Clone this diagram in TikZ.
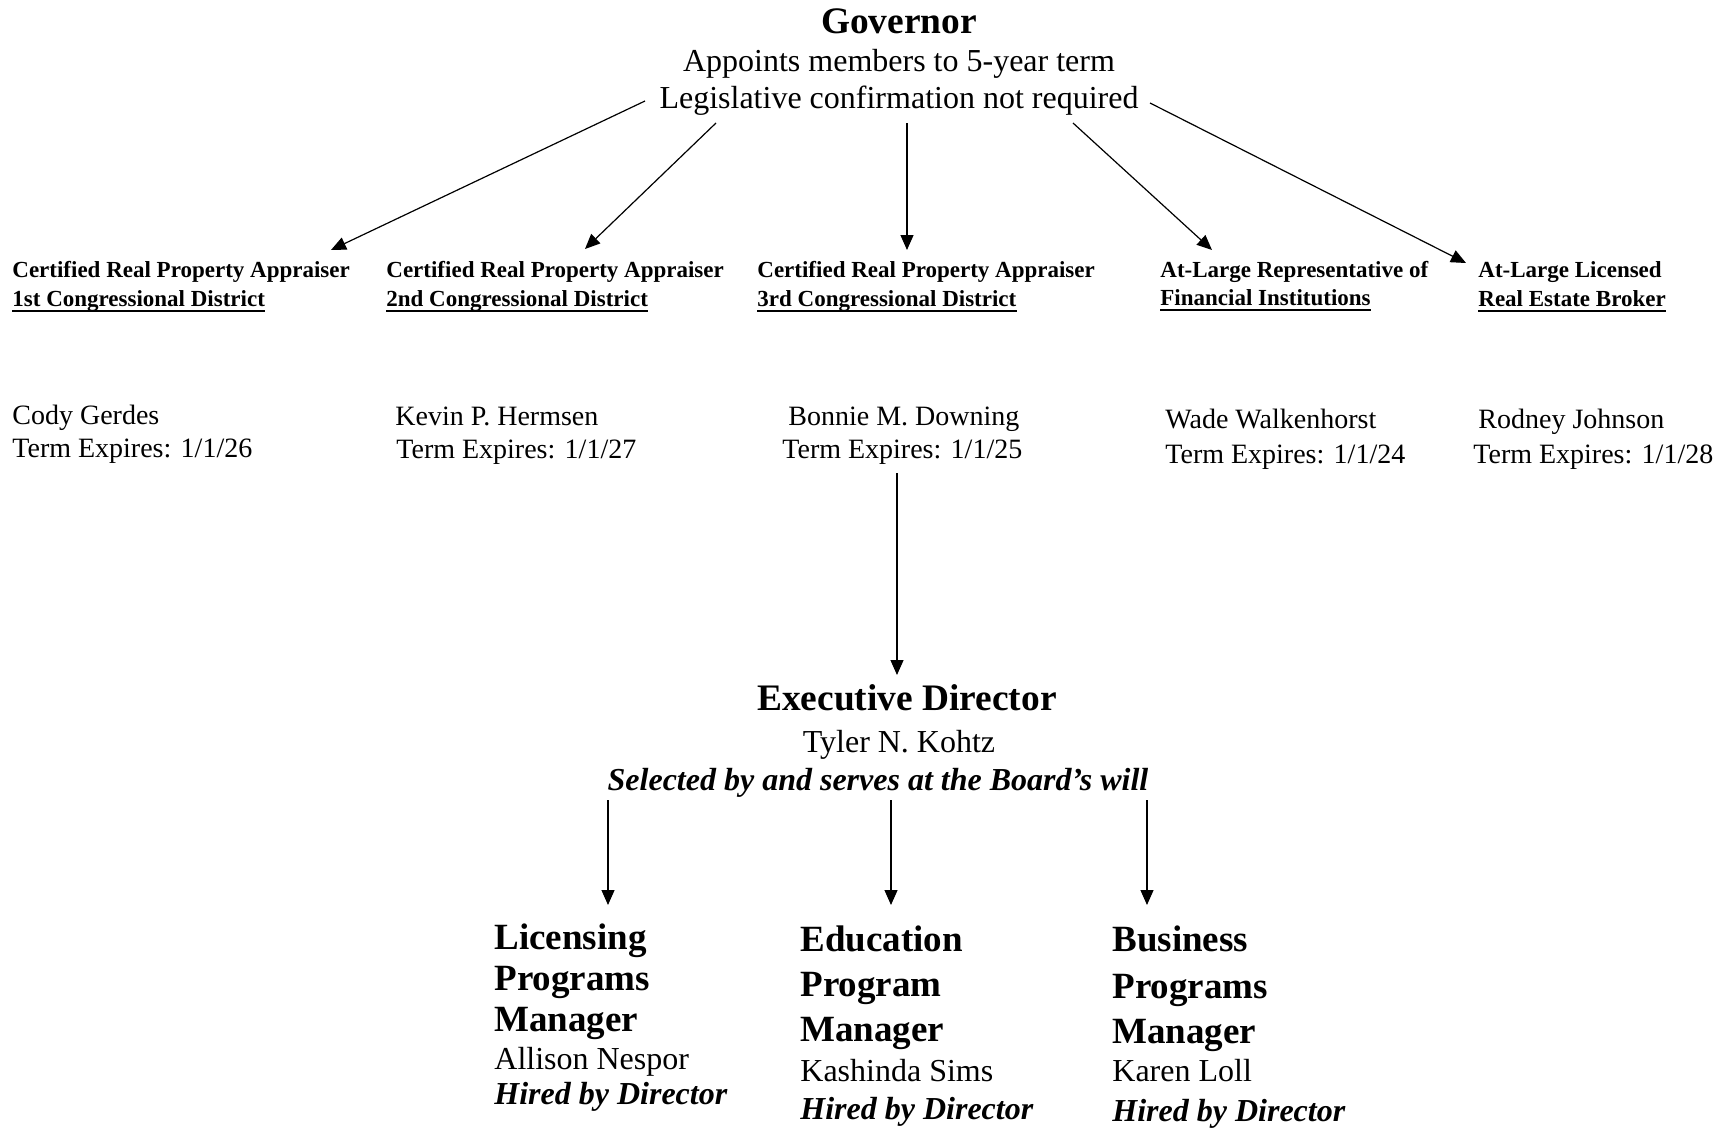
\documentclass[tikz,border=0pt]{standalone}
\usepackage{fontspec}
\setmainfont{Liberation Serif}
\usetikzlibrary{arrows.meta}
\newcommand\fsz[1]{\fontsize{#1}{#1}\selectfont}
\begin{document}
\begin{tikzpicture}[x=0.5pt,y=-0.5pt,
  txt/.style={inner sep=0pt,anchor=base west},
  ctxt/.style={inner sep=0pt,anchor=base},
  headf/.style={font=\fsz{18.7}\bfseries},
  bodyf/.style={font=\fsz{16}},
  boardf/.style={font=\fsz{11.5}\bfseries},
  namef/.style={font=\fsz{14}},
  mgrf/.style={font=\fsz{18.5}\bfseries},
  bif/.style={font=\fsz{16}\bfseries\itshape},
  arr/.style={line width=0.6pt,-{Triangle[length=7.5pt,width=6.5pt]}},
  uline/.style={line width=1.2pt}]
\useasboundingbox (0,0) rectangle (1726,1130);

% Governor
\node[ctxt,headf] (gov) at (899,33) {Governor};
\node[ctxt,bodyf] (gov2) at (899,71) {Appoints members to 5-year term};
\node[ctxt,bodyf] (gov3) at (899,108) {Legislative confirmation not required};

% Board titles
\node[txt,boardf] (t1a) at (12,277) {Certified Real Property Appraiser};
\node[txt,boardf] (t1b) at (12,306) {1st Congressional District};
\node[txt,boardf] (t2a) at (386,277) {Certified Real Property Appraiser};
\node[txt,boardf] (t2b) at (386,306) {2nd Congressional District};
\node[txt,boardf] (t3a) at (757,277) {Certified Real Property Appraiser};
\node[txt,boardf] (t3b) at (757,306) {3rd Congressional District};
\node[txt,boardf] (t4a) at (1160,277) {At-Large Representative of};
\node[txt,boardf] (t4b) at (1160,305) {Financial Institutions};
\node[txt,boardf] (t5a) at (1478,277) {At-Large Licensed};
\node[txt,boardf] (t5b) at (1478,306) {Real Estate Broker};
\foreach \n in {t1b,t2b,t3b,t4b,t5b}
  \draw[uline] ([yshift=-2.6pt]\n.base west) -- ([yshift=-2.6pt]\n.base east);

% Members
\node[txt,namef] (n1a) at (12,424) {Cody Gerdes};
\node[txt,namef] (n1b) at (12,457) {Term Expires: 1/1/26};
\node[txt,namef] (n2a) at (395,425) {Kevin P. Hermsen};
\node[txt,namef] (n2b) at (396,458) {Term Expires: 1/1/27};
\node[txt,namef] (n3a) at (788,425) {Bonnie M. Downing};
\node[txt,namef] (n3b) at (782,458) {Term Expires: 1/1/25};
\node[txt,namef] (n4a) at (1165,428) {Wade Walkenhorst};
\node[txt,namef] (n4b) at (1165,463) {Term Expires: 1/1/24};
\node[txt,namef] (n5a) at (1478,428) {Rodney Johnson};
\node[txt,namef] (n5b) at (1473,463) {Term Expires: 1/1/28};

% Executive director
\node[ctxt,headf] (ed) at (907,710) {Executive Director};
\node[ctxt,bodyf] (ed2) at (899,752) {Tyler N. Kohtz};
\node[ctxt,bif] (ed3) at (878,790) {Selected by and serves at the Board’s will};

% Managers
\node[txt,mgrf] (m1a) at (494,949) {Licensing};
\node[txt,mgrf] (m1b) at (494,990) {Programs};
\node[txt,mgrf] (m1c) at (494,1031) {Manager};
\node[txt,bodyf] (m1d) at (494,1069) {Allison Nespor};
\node[txt,bif] (m1e) at (494,1104) {Hired by Director};

\node[txt,mgrf] (m2a) at (800,951) {Education};
\node[txt,mgrf] (m2b) at (800,996) {Program};
\node[txt,mgrf] (m2c) at (800,1041) {Manager};
\node[txt,bodyf] (m2d) at (800,1081) {Kashinda Sims};
\node[txt,bif] (m2e) at (800,1119) {Hired by Director};

\node[txt,mgrf] (m3a) at (1112,951) {Business};
\node[txt,mgrf] (m3b) at (1112,998) {Programs};
\node[txt,mgrf] (m3c) at (1112,1043) {Manager};
\node[txt,bodyf] (m3d) at (1112,1081) {Karen Loll};
\node[txt,bif] (m3e) at (1112,1121) {Hired by Director};

% Connector end points
\coordinate (g1) at (645,101);  \coordinate (e1) at (331,250);
\coordinate (g2) at (716,123);  \coordinate (e2) at (585,249);
\coordinate (g3) at (907,123);  \coordinate (e3) at (907,250);
\coordinate (g4) at (1073,123); \coordinate (e4) at (1212,250);
\coordinate (g5) at (1150,103); \coordinate (e5) at (1466,263);
\coordinate (b3) at (897,473);  \coordinate (edt) at (897,675);
\coordinate (s1) at (608,800);  \coordinate (f1) at (608,905);
\coordinate (s2) at (891,800);  \coordinate (f2) at (891,905);
\coordinate (s3) at (1147,800); \coordinate (f3) at (1147,905);

\draw[arr] (g1) -- (e1);
\draw[arr] (g2) -- (e2);
\draw[arr] (g3) -- (e3);
\draw[arr] (g4) -- (e4);
\draw[arr] (g5) -- (e5);
\draw[arr] (b3) -- (edt);
\draw[arr] (s1) -- (f1);
\draw[arr] (s2) -- (f2);
\draw[arr] (s3) -- (f3);
\end{tikzpicture}
\end{document}
